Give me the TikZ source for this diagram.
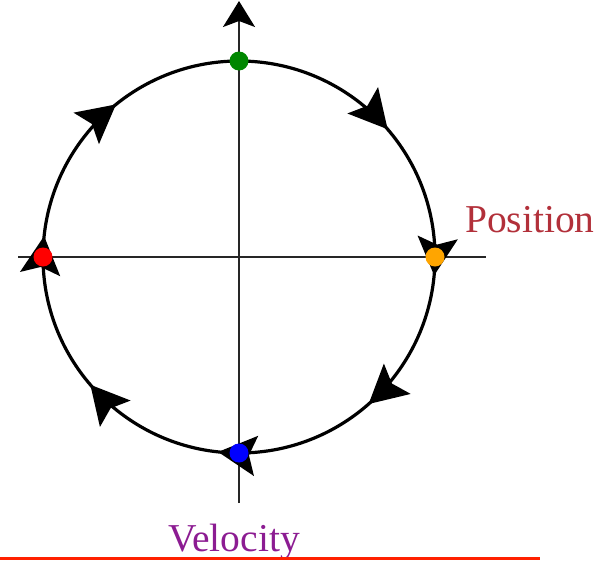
\documentclass[tikz,border=0pt]{standalone}
\usepackage{fontspec}
\setmainfont{Liberation Serif}
\usetikzlibrary{arrows.meta,decorations.markings}
\definecolor{posred}{RGB}{178,48,58}
\definecolor{velpurple}{RGB}{140,28,146}
\definecolor{redrule}{RGB}{255,32,0}
\definecolor{dotgreen}{RGB}{0,135,0}
\definecolor{dotorange}{RGB}{255,165,0}
\tikzset{
  axis/.style={line width=1.9pt, black!85},
  orbit/.style={line width=3.2pt, black},
  orbtip/.tip={Stealth[length=38pt,width=40pt,inset=7pt]},
  dot/.style={circle, inner sep=0pt, minimum size=19pt, draw=none},
  lbl/.style={inner sep=0pt, anchor=base west, font=\fontsize{39.5}{42}\selectfont},
}
\begin{document}
\begin{tikzpicture}[x=1pt,y=-1pt]
\useasboundingbox (0,0) rectangle (599,560);
\coordinate (C) at (239,257);
\coordinate (ytop) at (239,1);
\coordinate (ybot) at (239,503);
\coordinate (xl) at (18,257);
\coordinate (xr) at (486,257);
\draw[axis] (xl) -- (xr);
\draw[axis,-{Stealth[length=26pt,width=32pt,inset=6pt,black]}] (ybot) -- (ytop);
\draw[orbit, postaction={decorate}, decoration={markings,
  mark=at position 0.137 with {\arrow{orbtip}},
  mark=at position 0.265 with {\arrow{orbtip}},
  mark=at position 0.385 with {\arrow{orbtip}},
  mark=at position 0.517 with {\arrow{orbtip}},
  mark=at position 0.637 with {\arrow{orbtip}},
  mark=at position 0.767 with {\arrow{orbtip}},
  mark=at position 0.892 with {\arrow{orbtip}}}]
  (239,61) arc[start angle=-90, end angle=270, radius=196];
\node[dot, fill=dotgreen] (top) at (239,61) {};
\node[dot, fill=dotorange] (right) at (435,257) {};
\node[dot, fill=blue] (bottom) at (239,453) {};
\node[dot, fill=red] (left) at (43,257) {};
\node[lbl, text=posred] (pos) at (465,232) {Position};
\node[lbl, text=velpurple] (vel) at (168,551) {Velocity};
\coordinate (rl) at (0,558.5);
\coordinate (rr) at (540,558.5);
\draw[line width=3.2pt, redrule] (rl) -- (rr);
\end{tikzpicture}
\end{document}
